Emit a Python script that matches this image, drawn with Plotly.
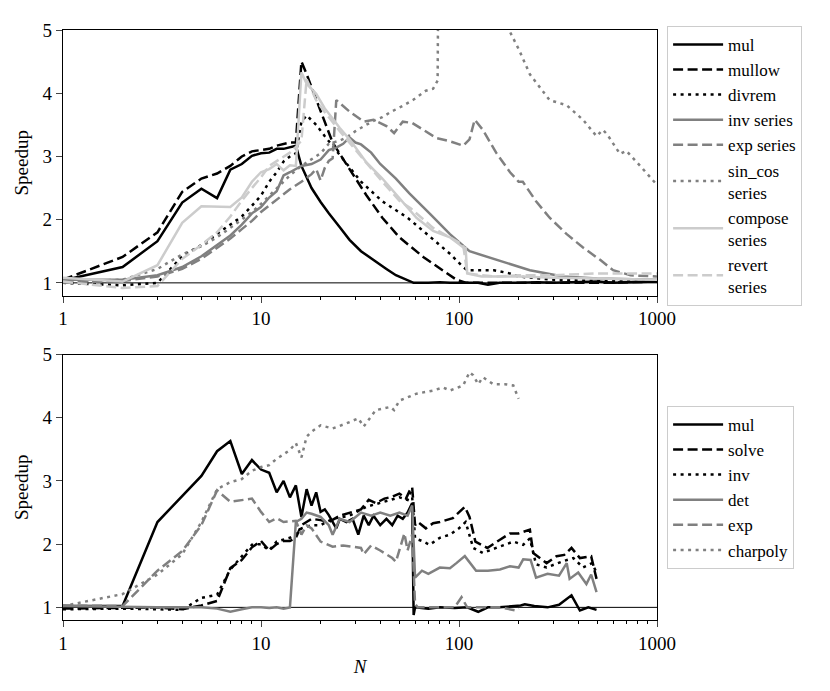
import plotly.graph_objects as go

# ---------------- top panel: series speedups ----------------
mul_N = [1,2,3,4,5,6,7,8,9,10,11,12,13,14,15,16,17,18,20,22,25,28,32,38,43,48,53,59,70,80,90,100,110,125,140,160,200,250,300,400,500,600,800,1000]
mul_v = [1.04,1.25,1.66,2.27,2.49,2.34,2.79,2.88,3.01,3.05,3.06,3.12,3.12,3.15,3.17,2.85,2.67,2.5,2.28,2.1,1.88,1.68,1.5,1.33,1.22,1.12,1.06,1.0,1.0,1.01,1.0,1.0,0.99,1.0,0.97,1.0,1.0,1.01,1.0,1.01,1.02,1.0,1.01,1.02]

mullow_N = [1,2,3,4,5,6,7,8,9,10,11,12,13,14,15,16,17,18,20,23,28,34,41,50,66,83,97,109,150,200,300,500,1000]
mullow_v = [1.05,1.41,1.8,2.44,2.65,2.73,2.85,3.0,3.08,3.1,3.12,3.17,3.2,3.22,3.22,4.5,4.3,4.1,3.7,3.22,2.8,2.39,2.03,1.72,1.41,1.2,1.05,1.0,1.0,1.0,1.0,1.0,1.02]

divrem_N = [1,2,3,4,5,6,7,8,9,10,11,12,13,14,15,16,17,19,21,26,32,41,55,72,90,105,110,150,180,200,300,500,1000]
divrem_v = [1.0,0.96,1.0,1.42,1.6,1.78,1.92,2.05,2.22,2.38,2.6,2.75,2.92,3.0,3.05,3.55,3.65,3.5,3.32,2.96,2.6,2.29,2.03,1.72,1.46,1.25,1.2,1.2,1.15,1.1,1.05,1.03,1.02]

invs_N = [1,2,3,4,5,6,7,8,9,10,11,12,13,14,15,16,18,20,22,24,26,28,30,32,36,40,48,56,72,90,113,127,143,160,228,335,500,1000]
invs_v = [1.05,1.05,1.12,1.25,1.42,1.6,1.75,1.92,2.1,2.2,2.35,2.45,2.7,2.75,2.8,2.85,2.88,2.95,3.1,3.14,3.2,3.3,3.22,3.19,3.06,2.88,2.65,2.42,2.08,1.77,1.5,1.45,1.4,1.35,1.2,1.1,1.07,1.05]

exps_N = [1,2,3,4,5,6,7,8,9,10,12,14,16,18,19,20,21,22,23,24,28,33,37,43,47,52,58,66,77,90,105,113,120,132,154,181,200,210,245,287,350,423,518,600,735,1000]
exps_v = [1.0,1.03,1.1,1.22,1.38,1.55,1.7,1.85,1.98,2.12,2.32,2.48,2.6,2.72,2.8,2.62,2.82,2.93,2.97,3.89,3.71,3.55,3.58,3.48,3.37,3.55,3.53,3.42,3.29,3.24,3.17,3.27,3.58,3.42,3.06,2.75,2.6,2.6,2.29,2.03,1.77,1.56,1.36,1.2,1.12,1.1]

sincos_N = [1,2,3,4,5,6,7,8,9,10,12,14,16,18,20,22,25,27,30,34,38,41,45,52,59,68,74,78,79,170,181,200,228,287,350,423,495,533,560,650,700,850,1000]
sincos_v = [1.02,1.05,1.22,1.45,1.58,1.72,1.87,2.0,2.12,2.25,2.5,2.7,2.85,2.95,3.05,3.2,3.25,3.3,3.4,3.5,3.58,3.62,3.7,3.8,3.9,4.04,4.07,4.2,7.0,7.0,4.97,4.7,4.3,3.89,3.81,3.58,3.32,3.42,3.35,3.04,3.09,2.8,2.55]

compose_N = [1,2,3,4,5,6,7,8,9,10,11,12,13,14,15,16,17,19,21,23,25,28,34,41,50,61,74,90,105,108,110,130,200,300,500,1000]
compose_v = [1.08,1.02,1.28,1.95,2.21,2.2,2.2,2.35,2.6,2.75,2.8,2.88,2.78,2.86,2.85,4.33,4.15,3.99,3.76,3.6,3.45,3.27,2.91,2.65,2.34,2.03,1.82,1.72,1.56,1.55,1.15,1.1,1.1,1.08,1.07,1.05]

revert_N = [1,2,3,4,5,6,7,8,9,10,11,12,13,14,15,16,17,19,21,25,33,41,50,57,74,90,105,110,150,200,300,500,1000]
revert_v = [1.02,0.92,0.95,1.38,1.6,1.8,2.05,2.3,2.5,2.67,2.85,2.93,3.0,3.06,3.15,3.25,4.22,3.89,3.7,3.4,2.95,2.6,2.3,2.18,1.87,1.72,1.6,1.15,1.1,1.12,1.12,1.15,1.15]

# ---------------- bottom panel: matrix speedups ----------------
bmul_N = [1,2,3,4,5,6,7,8,9,10,11,12,13,14,15,16,17,18,19,20,21,22,24,25,27,29,31,33,35,37,40,43,46,49,52,55,57,58,59,60,70,80,95,110,125,140,160,205,215,240,280,320,370,408,450,495]
bmul_v = [1.02,1.02,2.35,2.77,3.08,3.47,3.63,3.11,3.33,3.18,3.13,2.82,3.0,2.74,2.93,2.43,2.87,2.61,2.82,2.51,2.55,2.46,2.25,2.4,2.35,2.4,2.15,2.45,2.3,2.45,2.3,2.4,2.3,2.45,2.4,2.5,2.62,2.65,0.88,1.0,0.98,1.0,0.99,1.0,0.93,1.0,1.0,1.03,1.05,1.02,1.0,1.04,1.19,0.95,1.0,0.96]

solve_N = [1,2,3,4,5,6,7,8,9,10,11,12,13,14,15,16,18,20,22,25,28,32,35,38,42,46,50,54,57,58,60,62,68,74,80,93,107,113,121,139,161,181,200,228,237,256,277,311,340,370,408,465,495]
solve_v = [0.98,1.0,1.0,0.97,1.03,1.1,1.62,1.75,1.95,2.05,1.9,2.0,2.05,2.05,2.1,2.3,2.4,2.38,2.35,2.45,2.5,2.55,2.7,2.65,2.72,2.75,2.8,2.72,2.88,2.9,2.3,2.35,2.25,2.33,2.35,2.41,2.59,2.43,2.04,1.94,2.07,2.17,2.17,2.23,1.86,1.78,1.7,1.81,1.83,1.94,1.78,1.81,1.45]

binv_N = [1,2,3,4,5,6,7,8,9,10,11,12,14,15,16,18,20,23,28,34,40,45,50,55,57,58,60,65,71,80,90,100,108,118,132,154,188,211,228,245,277,335,378,423,470,495]
binv_v = [0.97,0.98,0.97,0.96,1.15,1.2,1.6,1.8,1.99,2.0,1.9,2.04,2.1,2.15,2.25,2.3,2.3,2.4,2.45,2.59,2.65,2.7,2.74,2.7,2.82,2.75,2.09,2.05,1.99,2.1,2.15,2.25,2.35,1.94,1.86,1.94,2.04,1.99,2.09,1.68,1.63,1.73,1.78,1.63,1.7,1.55]

det_N = [1,2,3,4,5,6,7,8,9,10,11,12,13,14,15,16,17,18,19,20,22,23,25,28,32,36,40,45,50,55,58,60,65,70,80,90,97,107,122,140,161,181,200,211,230,245,280,320,350,362,400,440,465,495]
det_v = [1.02,1.0,1.0,1.0,1.0,0.98,0.93,0.97,1.0,1.0,0.99,1.0,0.98,1.0,2.35,2.4,2.5,2.48,2.45,2.43,2.3,2.15,2.4,2.35,2.5,2.45,2.5,2.45,2.5,2.45,2.61,1.47,1.58,1.53,1.63,1.62,1.7,1.81,1.58,1.58,1.6,1.65,1.63,1.76,1.75,1.47,1.53,1.5,1.7,1.45,1.55,1.37,1.52,1.24]

bexp_N = [1,2,3,4,5,6,7,8,9,10,11,12,13,15,16,17,18,20,23,26,29,32,33,36,40,46,48,50,53,55,58,60,62,70,80,95,103,110,130,160,195,200]
bexp_v = [1.03,1.02,1.58,1.89,2.3,2.85,2.67,2.7,2.72,2.51,2.35,2.41,2.35,2.37,2.15,2.3,2.25,2.04,1.96,1.98,1.96,1.94,1.84,1.98,1.9,1.78,1.72,1.9,2.17,1.9,2.15,1.05,1.0,1.0,1.0,1.0,1.16,1.0,1.0,1.0,0.95,0.98]

charpoly_N = [1,2,3,4,5,6,7,8,9,10,11,12,13,14,15,16,17,18,20,23,27,31,33,38,45,47,50,61,74,83,90,105,113,118,125,132,149,170,188,200]
charpoly_v = [1.02,1.21,1.52,1.84,2.35,2.87,2.98,3.03,3.16,3.22,3.25,3.35,3.42,3.49,3.6,3.37,3.7,3.78,3.88,3.83,3.91,3.99,3.86,4.12,4.17,4.12,4.27,4.38,4.43,4.48,4.43,4.51,4.72,4.67,4.53,4.64,4.53,4.53,4.51,4.3]

BLACK = "#000000"
GRAY = "#808080"
LIGHT = "#cccccc"
DASH = "10px,4.5px"
DOT = "3px,4.5px"
LW = 2.5

top_series = [
    ("mul", mul_N, mul_v, BLACK, "solid"),
    ("mullow", mullow_N, mullow_v, BLACK, DASH),
    ("divrem", divrem_N, divrem_v, BLACK, DOT),
    ("inv series", invs_N, invs_v, GRAY, "solid"),
    ("exp series", exps_N, exps_v, GRAY, DASH),
    ("sin_cos<br>series", sincos_N, sincos_v, GRAY, DOT),
    ("compose<br>series", compose_N, compose_v, LIGHT, "solid"),
    ("revert<br>series", revert_N, revert_v, LIGHT, DASH),
]
bottom_series = [
    ("mul", bmul_N, bmul_v, BLACK, "solid"),
    ("solve", solve_N, solve_v, BLACK, DASH),
    ("inv", binv_N, binv_v, BLACK, DOT),
    ("det", det_N, det_v, GRAY, "solid"),
    ("exp", bexp_N, bexp_v, GRAY, DASH),
    ("charpoly", charpoly_N, charpoly_v, GRAY, DOT),
]

FONT = "Liberation Serif, DejaVu Serif, serif"
FS = 19
LFS = 17

fig = go.Figure()
for i, (name, xs, ys, col, dash) in enumerate(top_series):
    fig.add_trace(go.Scatter(x=xs, y=ys, mode="lines", name=name,
                             line=dict(color=col, width=LW, dash=dash),
                             xaxis="x", yaxis="y", legend="legend",
                             legendgroup="t%d" % i))
for i, (name, xs, ys, col, dash) in enumerate(bottom_series):
    fig.add_trace(go.Scatter(x=xs, y=ys, mode="lines", name=name,
                             line=dict(color=col, width=LW, dash=dash),
                             xaxis="x2", yaxis="y2", legend="legend2",
                             legendgroup="b%d" % i))

minor_vals = [m * 10 ** e for e in range(3) for m in range(2, 10)]
xcommon = dict(type="log", range=[0, 3], tickvals=[1, 10, 100, 1000],
               ticktext=["1", "10", "100", "1000"], ticks="outside", ticklen=6,
               tickwidth=1.2, showline=True, linecolor="black", linewidth=1.2,
               mirror=True, showgrid=False, zeroline=False,
               minor=dict(ticks="outside", ticklen=3, tickwidth=1, tickvals=minor_vals,
                          showgrid=False, tickcolor="black"),
               tickfont=dict(family=FONT, size=FS, color="black"))
ycommon = dict(range=[0.8, 5], tickvals=[1, 2, 3, 4, 5], ticks="outside", ticklen=6,
               tickwidth=1.2, showline=True, linecolor="black", linewidth=1.2,
               mirror=True, showgrid=False, zeroline=False,
               tickfont=dict(family=FONT, size=FS, color="black"),
               title=dict(text="Speedup", font=dict(family=FONT, size=FS, color="black"), standoff=8))

legcommon = dict(xanchor="left", yanchor="top", bgcolor="white", bordercolor="#cccccc",
                 borderwidth=1, font=dict(family=FONT, size=LFS, color="black"),
                 itemwidth=50, traceorder="grouped", tracegroupgap=0)

fig.update_layout(
    width=822, height=683,
    margin=dict(l=55, r=173, t=12, b=71),
    paper_bgcolor="white", plot_bgcolor="white",
    font=dict(family=FONT, size=FS, color="black"),
    xaxis=dict(xcommon, domain=[0, 1], anchor="y"),
    yaxis=dict(ycommon, domain=[0.55, 1.0], anchor="x"),
    xaxis2=dict(xcommon, domain=[0, 1], anchor="y2",
                title=dict(text="<i>N</i>", font=dict(family=FONT, size=FS, color="black"), standoff=6)),
    yaxis2=dict(ycommon, domain=[0.0, 0.45], anchor="x2"),
    legend=dict(legcommon, x=1.017, y=1.007),
    legend2=dict(legcommon, x=1.017, y=0.363),
    shapes=[
        dict(type="line", xref="x domain", yref="y", x0=0, x1=1, y0=1, y1=1,
             line=dict(color="black", width=1), layer="below"),
        dict(type="line", xref="x2 domain", yref="y2", x0=0, x1=1, y0=1, y1=1,
             line=dict(color="black", width=1), layer="below"),
    ],
)

fig.write_html("out.html")
